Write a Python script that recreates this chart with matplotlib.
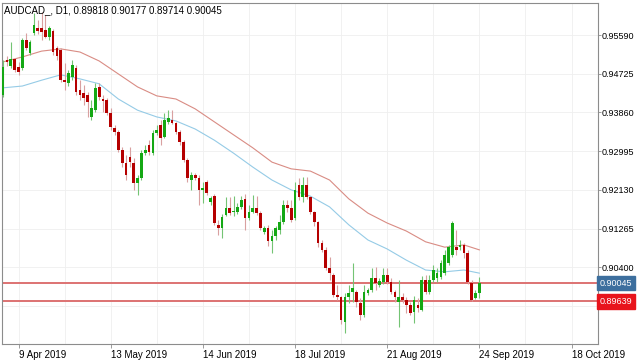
import numpy as np
import matplotlib
matplotlib.use('Agg')
import matplotlib.pyplot as plt
from matplotlib.transforms import blended_transform_factory

plt.rcParams['font.family'] = ['Liberation Sans', 'DejaVu Sans']

# daily AUDCAD candles (oldest first)
opens = [
    .9425, .9503, .9490, .9505, .9488, .9485, .9548, .9519, .9564, .9575,
    .9575, .9570, .9555, .9568, .9530, .9526, .9458, .9452, .9465, .9485,
    .9436, .9429, .9425, .9376, .9391, .9443, .9416, .9414, .9385, .9351,
    .9342, .9302, .9273, .9286, .9273, .9228, .9240, .9295, .9313, .9295,
    .9340, .9358, .9331, .9365, .9369, .9362, .9342, .9320, .9280, .9235,
    .9246, .9240, .9213, .9231, .9186, .9199, .9135, .9128, .9157, .9173,
    .9164, .9164, .9175, .9193, .9150, .9164, .9173, .9161, .9119, .9128,
    .9099, .9110, .9123, .9141, .9179, .9173, .9150, .9224, .9197, .9224,
    .9197, .9164, .9141, .9094, .9079, .9039, .9023, .8978, .8974, .8918,
    .8974, .8985, .8985, .8960, .8934, .8983, .8989, .9016, .9000, .9007,
    .9023, .9007, .8985, .8962, .8974, .8967, .8956, .8940, .8956, .8945,
    .9012, .8985, .9012, .9016, .9018, .9027, .9050, .9068, .9085, .9085,
    .9090, .9072, .9005, .8971, .89818,
]
highs = [
    .9503, .9512, .9543, .9508, .9499, .9552, .9564, .9548, .9608, .9593,
    .9610, .9604, .9579, .9572, .9534, .9530, .9496, .9481, .9503, .9492,
    .9458, .9447, .9432, .9414, .9452, .9452, .9425, .9418, .9396, .9358,
    .9347, .9309, .9291, .9309, .9284, .9246, .9302, .9313, .9324, .9347,
    .9358, .9369, .9385, .9391, .9391, .9365, .9347, .9324, .9284, .9253,
    .9251, .9246, .9231, .9235, .9199, .9204, .9146, .9159, .9197, .9197,
    .9199, .9184, .9199, .9204, .9179, .9202, .9199, .9166, .9132, .9135,
    .9123, .9132, .9157, .9190, .9190, .9190, .9231, .9240, .9242, .9242,
    .9199, .9166, .9143, .9101, .9085, .9063, .9027, .9000, .8976, .8983,
    .9000, .9050, .8989, .8971, .9000, .8994, .9039, .9041, .9016, .9039,
    .9039, .9016, .8989, .9012, .8983, .8974, .8962, .8976, .8971, .9021,
    .9023, .9023, .9045, .9039, .9056, .9079, .9090, .9143, .9123, .9101,
    .9094, .9079, .9012, .8989, .90177,
]
lows = [
    .9420, .9490, .9485, .9476, .9470, .9481, .9526, .9514, .9559, .9561,
    .9548, .9552, .9548, .9514, .9503, .9454, .9436, .9445, .9458, .9425,
    .9414, .9403, .9376, .9369, .9387, .9414, .9387, .9380, .9347, .9336,
    .9298, .9264, .9235, .9264, .9213, .9202, .9235, .9291, .9291, .9291,
    .9336, .9313, .9329, .9360, .9360, .9338, .9313, .9275, .9231, .9213,
    .9235, .9179, .9184, .9202, .9179, .9135, .9112, .9106, .9155, .9157,
    .9155, .9159, .9170, .9123, .9146, .9161, .9157, .9123, .9114, .9088,
    .9072, .9101, .9114, .9137, .9164, .9141, .9146, .9190, .9186, .9193,
    .9159, .9132, .9085, .9074, .9034, .9012, .8974, .8967, .8913, .8893,
    .8960, .8962, .8951, .8922, .8929, .8978, .8985, .8989, .8996, .9003,
    .9003, .8980, .8962, .8907, .8960, .8938, .8934, .8916, .8940, .8942,
    .8980, .8980, .9007, .9007, .9014, .9023, .9045, .9063, .9068, .9079,
    .9061, .9003, .8965, .8969, .89714,
]
closes = [
    .9488, .9499, .9505, .9481, .9476, .9548, .9530, .9543, .9581, .9568,
    .9566, .9555, .9575, .9521, .9512, .9458, .9454, .9474, .9492, .9432,
    .9425, .9418, .9409, .9396, .9441, .9420, .9412, .9385, .9353, .9342,
    .9302, .9273, .9246, .9275, .9228, .9240, .9295, .9302, .9298, .9340,
    .9347, .9329, .9369, .9374, .9362, .9342, .9320, .9280, .9240, .9246,
    .9240, .9213, .9217, .9206, .9195, .9139, .9128, .9152, .9173, .9161,
    .9166, .9175, .9190, .9150, .9164, .9173, .9161, .9128, .9128, .9099,
    .9110, .9128, .9141, .9179, .9173, .9146, .9213, .9197, .9224, .9197,
    .9164, .9141, .9094, .9079, .9039, .9027, .8978, .8974, .8922, .8974,
    .8983, .8994, .8962, .8934, .8985, .8989, .9016, .9005, .9009, .9023,
    .9007, .8985, .8974, .8974, .8967, .8956, .8938, .8967, .8949, .9012,
    .8985, .9012, .9034, .9027, .9050, .9068, .9085, .9139, .9079, .9090,
    .9072, .9007, .8967, .8983, .90045,
]

# moving averages, sampled at these bar positions
ma_idx = [0, 5, 10, 15, 20, 25, 30, 35, 40, 45, 50, 55, 60, 65, 70, 75,
          80, 85, 90, 95, 100, 105, 110, 115, 120, 124]
ma_slow = [.9499, .9510, .9523, .9528, .9521, .9501, .9472, .9443, .9423, .9416,
           .9394, .9365, .9336, .9307, .9275, .9260, .9255, .9235, .9193, .9161,
           .9139, .9121, .9097, .9085, .9090, .9079]
ma_fast = [.9441, .9445, .9458, .9470, .9461, .9450, .9416, .9391, .9376, .9367,
           .9349, .9324, .9295, .9264, .9235, .9213, .9199, .9175, .9135, .9101,
           .9081, .9056, .9034, .9030, .9034, .9027]

date_idx = [4, 28, 52, 76, 100, 124, 148]
date_labels = ['9 Apr 2019', '13 May 2019', '14 Jun 2019', '18 Jul 2019',
               '21 Aug 2019', '24 Sep 2019', '18 Oct 2019']
price_ticks = [0.95590, 0.94725, 0.93860, 0.92995, 0.92130, 0.91265, 0.90400, 0.89535]
bid_level = 0.90045
support_level = 0.89639
title = 'AUDCAD_, D1, 0.89818 0.90177 0.89714 0.90045'

o = np.array(opens); h = np.array(highs); l = np.array(lows); c = np.array(closes)
x = np.arange(len(c))
up = c >= o

fig = plt.figure(figsize=(6.4, 3.6), dpi=100)
ax = fig.add_axes([2 / 640, 1 - 344 / 360, 596 / 640, 341 / 360])
ax.set_xlim(-0.3, 154.9)
ax.set_ylim(0.88687, 0.96305)

# faint grid
for gx in range(124 - 12 * 10, 160, 12):
    ax.axvline(gx, color='#efefef', lw=0.6, zorder=0)
for p in price_ticks:
    ax.axhline(p, color='#efefef', lw=0.6, zorder=0)

# horizontal levels
ax.axhline(bid_level, color='#dd7272', lw=1.4, zorder=1)
ax.axhline(support_level, color='#dd7272', lw=1.4, zorder=1)

# moving averages
ax.plot(ma_idx, ma_slow, color='#d98c84', lw=0.8, zorder=2)
ax.plot(ma_idx, ma_fast, color='#95cbe6', lw=0.8, zorder=2)

# candles
ax.vlines(x[up], l[up], h[up], color='#74c474', lw=0.8, zorder=3)
ax.vlines(x[~up], l[~up], h[~up], color='#d9a0a0', lw=0.8, zorder=3)
body = np.maximum(np.abs(c - o), 0.00012)
ax.bar(x[up], body[up], bottom=np.minimum(o, c)[up], width=0.7,
       color='#14a814', linewidth=0, zorder=4)
ax.bar(x[~up], body[~up], bottom=np.minimum(o, c)[~up], width=0.7,
       color='#b50000', linewidth=0, zorder=4)

# axes frame and ticks
for s in ax.spines.values():
    s.set_color('#8c8c8c')
    s.set_linewidth(0.8)
ax.yaxis.tick_right()
ax.set_yticks(price_ticks)
ax.set_yticklabels([f'{p:.5f}' for p in price_ticks])
ax.set_xticks(date_idx)
ax.set_xticklabels(date_labels, ha='left')
ax.tick_params(axis='y', length=2, width=0.6, color='#8c8c8c', pad=0.8,
               labelsize=6.5, labelcolor='black')
ax.tick_params(axis='x', length=3, width=0.6, color='#8c8c8c', pad=1.5,
               labelsize=7, labelcolor='black')

# price tags on the right (the support tag sits over the 0.89535 label, as in MT4)
tr = blended_transform_factory(ax.transAxes, ax.transData)
ax.text(1.003, bid_level, f'{bid_level:.5f}', transform=tr, va='center', ha='left',
        fontsize=6.5, color='white', clip_on=False, zorder=10,
        bbox=dict(boxstyle='square,pad=0.3', fc='#3d6f9e', ec='#3d6f9e'))
ax.text(1.003, support_level, f'{support_level:.5f}', transform=tr, va='center', ha='left',
        fontsize=6.5, color='white', clip_on=False, zorder=10,
        bbox=dict(boxstyle='square,pad=0.3', fc='#e8141c', ec='#e8141c'))

ax.text(0.003, 0.995, title, transform=ax.transAxes, va='top', ha='left',
        fontsize=7, color='black', zorder=10)

fig.savefig('out.png', dpi=100)
